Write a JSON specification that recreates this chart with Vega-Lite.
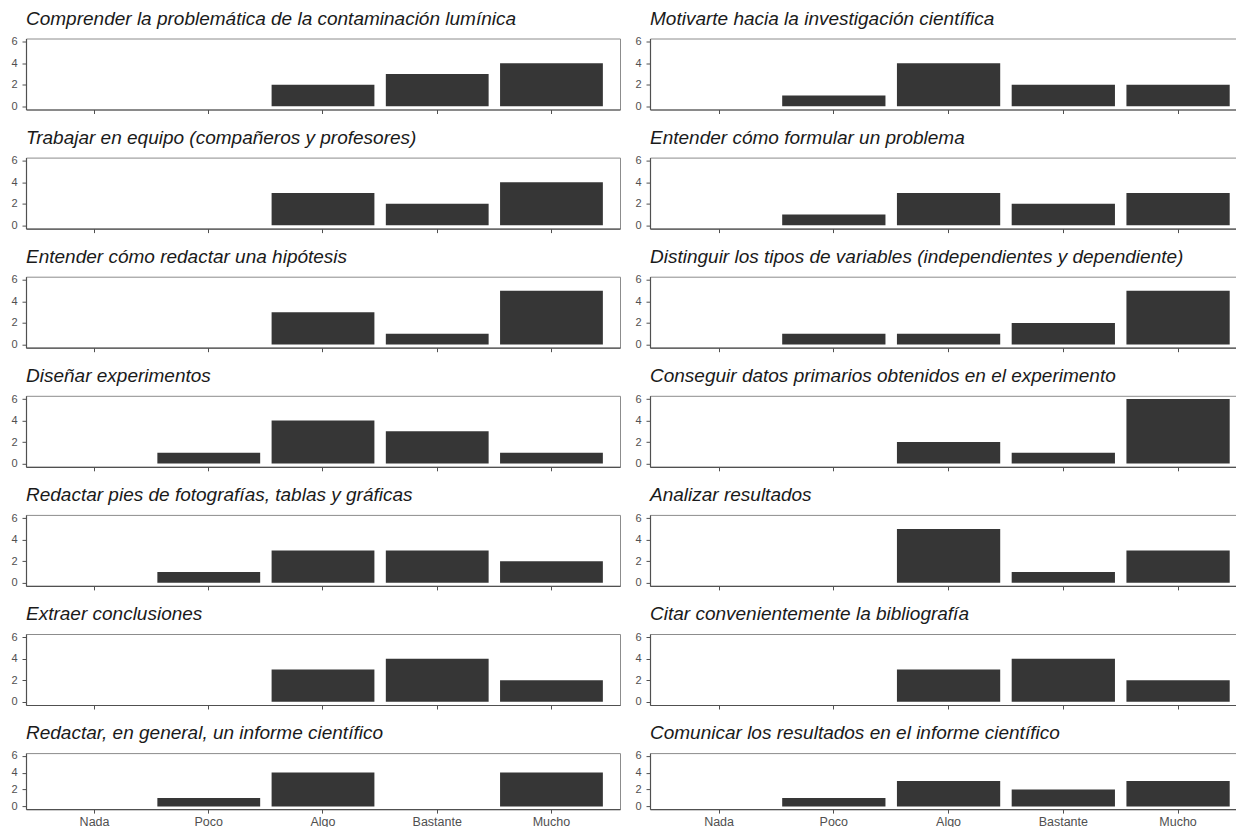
{
  "$schema": "https://vega.github.io/schema/vega-lite/v6.json",
  "padding": {"left": 10, "top": 8.5, "right": 0, "bottom": 0},
  "background": "white",
  "data": {"values": [
    {"p": 1, "cat": "Algo", "n": 2}, {"p": 1, "cat": "Bastante", "n": 3}, {"p": 1, "cat": "Mucho", "n": 4},
    {"p": 2, "cat": "Poco", "n": 1}, {"p": 2, "cat": "Algo", "n": 4}, {"p": 2, "cat": "Bastante", "n": 2}, {"p": 2, "cat": "Mucho", "n": 2},
    {"p": 3, "cat": "Algo", "n": 3}, {"p": 3, "cat": "Bastante", "n": 2}, {"p": 3, "cat": "Mucho", "n": 4},
    {"p": 4, "cat": "Poco", "n": 1}, {"p": 4, "cat": "Algo", "n": 3}, {"p": 4, "cat": "Bastante", "n": 2}, {"p": 4, "cat": "Mucho", "n": 3},
    {"p": 5, "cat": "Algo", "n": 3}, {"p": 5, "cat": "Bastante", "n": 1}, {"p": 5, "cat": "Mucho", "n": 5},
    {"p": 6, "cat": "Poco", "n": 1}, {"p": 6, "cat": "Algo", "n": 1}, {"p": 6, "cat": "Bastante", "n": 2}, {"p": 6, "cat": "Mucho", "n": 5},
    {"p": 7, "cat": "Poco", "n": 1}, {"p": 7, "cat": "Algo", "n": 4}, {"p": 7, "cat": "Bastante", "n": 3}, {"p": 7, "cat": "Mucho", "n": 1},
    {"p": 8, "cat": "Algo", "n": 2}, {"p": 8, "cat": "Bastante", "n": 1}, {"p": 8, "cat": "Mucho", "n": 6},
    {"p": 9, "cat": "Poco", "n": 1}, {"p": 9, "cat": "Algo", "n": 3}, {"p": 9, "cat": "Bastante", "n": 3}, {"p": 9, "cat": "Mucho", "n": 2},
    {"p": 10, "cat": "Algo", "n": 5}, {"p": 10, "cat": "Bastante", "n": 1}, {"p": 10, "cat": "Mucho", "n": 3},
    {"p": 11, "cat": "Algo", "n": 3}, {"p": 11, "cat": "Bastante", "n": 4}, {"p": 11, "cat": "Mucho", "n": 2},
    {"p": 12, "cat": "Algo", "n": 3}, {"p": 12, "cat": "Bastante", "n": 4}, {"p": 12, "cat": "Mucho", "n": 2},
    {"p": 13, "cat": "Poco", "n": 1}, {"p": 13, "cat": "Algo", "n": 4}, {"p": 13, "cat": "Mucho", "n": 4},
    {"p": 14, "cat": "Poco", "n": 1}, {"p": 14, "cat": "Algo", "n": 3}, {"p": 14, "cat": "Bastante", "n": 2}, {"p": 14, "cat": "Mucho", "n": 3}
  ]},
  "columns": 2,
  "spacing": {"row": 13.1, "column": 13},
  "concat": [
    {"title": "Comprender la problemática de la contaminación lumínica", "width": 594, "height": 71, "transform": [{"filter": "datum.p == 1"}], "mark": "bar",
     "encoding": {"x": {"field": "cat", "type": "nominal", "scale": {"domain": ["Nada","Poco","Algo","Bastante","Mucho"], "paddingInner": 0.1, "paddingOuter": 0.15}, "axis": {"labels": false}},
                  "y": {"field": "n", "type": "quantitative", "scale": {"domain": [-0.3, 6.3], "nice": false, "zero": false}, "axis": {"values": [0, 2, 4, 6]}}, "y2": {"datum": 0}}},
    {"title": "Motivarte hacia la investigación científica", "width": 587, "height": 71, "transform": [{"filter": "datum.p == 2"}], "mark": "bar",
     "encoding": {"x": {"field": "cat", "type": "nominal", "scale": {"domain": ["Nada","Poco","Algo","Bastante","Mucho"], "paddingInner": 0.1, "paddingOuter": 0.1078, "align": 0.705}, "axis": {"labels": false}},
                  "y": {"field": "n", "type": "quantitative", "scale": {"domain": [-0.3, 6.3], "nice": false, "zero": false}, "axis": {"values": [0, 2, 4, 6]}}, "y2": {"datum": 0}}},
    {"title": "Trabajar en equipo (compañeros y profesores)", "width": 594, "height": 71, "transform": [{"filter": "datum.p == 3"}], "mark": "bar",
     "encoding": {"x": {"field": "cat", "type": "nominal", "scale": {"domain": ["Nada","Poco","Algo","Bastante","Mucho"], "paddingInner": 0.1, "paddingOuter": 0.15}, "axis": {"labels": false}},
                  "y": {"field": "n", "type": "quantitative", "scale": {"domain": [-0.3, 6.3], "nice": false, "zero": false}, "axis": {"values": [0, 2, 4, 6]}}, "y2": {"datum": 0}}},
    {"title": "Entender cómo formular un problema", "width": 587, "height": 71, "transform": [{"filter": "datum.p == 4"}], "mark": "bar",
     "encoding": {"x": {"field": "cat", "type": "nominal", "scale": {"domain": ["Nada","Poco","Algo","Bastante","Mucho"], "paddingInner": 0.1, "paddingOuter": 0.1078, "align": 0.705}, "axis": {"labels": false}},
                  "y": {"field": "n", "type": "quantitative", "scale": {"domain": [-0.3, 6.3], "nice": false, "zero": false}, "axis": {"values": [0, 2, 4, 6]}}, "y2": {"datum": 0}}},
    {"title": "Entender cómo redactar una hipótesis", "width": 594, "height": 71, "transform": [{"filter": "datum.p == 5"}], "mark": "bar",
     "encoding": {"x": {"field": "cat", "type": "nominal", "scale": {"domain": ["Nada","Poco","Algo","Bastante","Mucho"], "paddingInner": 0.1, "paddingOuter": 0.15}, "axis": {"labels": false}},
                  "y": {"field": "n", "type": "quantitative", "scale": {"domain": [-0.3, 6.3], "nice": false, "zero": false}, "axis": {"values": [0, 2, 4, 6]}}, "y2": {"datum": 0}}},
    {"title": "Distinguir los tipos de variables (independientes y dependiente)", "width": 587, "height": 71, "transform": [{"filter": "datum.p == 6"}], "mark": "bar",
     "encoding": {"x": {"field": "cat", "type": "nominal", "scale": {"domain": ["Nada","Poco","Algo","Bastante","Mucho"], "paddingInner": 0.1, "paddingOuter": 0.1078, "align": 0.705}, "axis": {"labels": false}},
                  "y": {"field": "n", "type": "quantitative", "scale": {"domain": [-0.3, 6.3], "nice": false, "zero": false}, "axis": {"values": [0, 2, 4, 6]}}, "y2": {"datum": 0}}},
    {"title": "Diseñar experimentos", "width": 594, "height": 71, "transform": [{"filter": "datum.p == 7"}], "mark": "bar",
     "encoding": {"x": {"field": "cat", "type": "nominal", "scale": {"domain": ["Nada","Poco","Algo","Bastante","Mucho"], "paddingInner": 0.1, "paddingOuter": 0.15}, "axis": {"labels": false}},
                  "y": {"field": "n", "type": "quantitative", "scale": {"domain": [-0.3, 6.3], "nice": false, "zero": false}, "axis": {"values": [0, 2, 4, 6]}}, "y2": {"datum": 0}}},
    {"title": "Conseguir datos primarios obtenidos en el experimento", "width": 587, "height": 71, "transform": [{"filter": "datum.p == 8"}], "mark": "bar",
     "encoding": {"x": {"field": "cat", "type": "nominal", "scale": {"domain": ["Nada","Poco","Algo","Bastante","Mucho"], "paddingInner": 0.1, "paddingOuter": 0.1078, "align": 0.705}, "axis": {"labels": false}},
                  "y": {"field": "n", "type": "quantitative", "scale": {"domain": [-0.3, 6.3], "nice": false, "zero": false}, "axis": {"values": [0, 2, 4, 6]}}, "y2": {"datum": 0}}},
    {"title": "Redactar pies de fotografías, tablas y gráficas", "width": 594, "height": 71, "transform": [{"filter": "datum.p == 9"}], "mark": "bar",
     "encoding": {"x": {"field": "cat", "type": "nominal", "scale": {"domain": ["Nada","Poco","Algo","Bastante","Mucho"], "paddingInner": 0.1, "paddingOuter": 0.15}, "axis": {"labels": false}},
                  "y": {"field": "n", "type": "quantitative", "scale": {"domain": [-0.3, 6.3], "nice": false, "zero": false}, "axis": {"values": [0, 2, 4, 6]}}, "y2": {"datum": 0}}},
    {"title": "Analizar resultados", "width": 587, "height": 71, "transform": [{"filter": "datum.p == 10"}], "mark": "bar",
     "encoding": {"x": {"field": "cat", "type": "nominal", "scale": {"domain": ["Nada","Poco","Algo","Bastante","Mucho"], "paddingInner": 0.1, "paddingOuter": 0.1078, "align": 0.705}, "axis": {"labels": false}},
                  "y": {"field": "n", "type": "quantitative", "scale": {"domain": [-0.3, 6.3], "nice": false, "zero": false}, "axis": {"values": [0, 2, 4, 6]}}, "y2": {"datum": 0}}},
    {"title": "Extraer conclusiones", "width": 594, "height": 71, "transform": [{"filter": "datum.p == 11"}], "mark": "bar",
     "encoding": {"x": {"field": "cat", "type": "nominal", "scale": {"domain": ["Nada","Poco","Algo","Bastante","Mucho"], "paddingInner": 0.1, "paddingOuter": 0.15}, "axis": {"labels": false}},
                  "y": {"field": "n", "type": "quantitative", "scale": {"domain": [-0.3, 6.3], "nice": false, "zero": false}, "axis": {"values": [0, 2, 4, 6]}}, "y2": {"datum": 0}}},
    {"title": "Citar convenientemente la bibliografía", "width": 587, "height": 71, "transform": [{"filter": "datum.p == 12"}], "mark": "bar",
     "encoding": {"x": {"field": "cat", "type": "nominal", "scale": {"domain": ["Nada","Poco","Algo","Bastante","Mucho"], "paddingInner": 0.1, "paddingOuter": 0.1078, "align": 0.705}, "axis": {"labels": false}},
                  "y": {"field": "n", "type": "quantitative", "scale": {"domain": [-0.3, 6.3], "nice": false, "zero": false}, "axis": {"values": [0, 2, 4, 6]}}, "y2": {"datum": 0}}},
    {"title": "Redactar, en general, un informe científico", "width": 594, "height": 56, "transform": [{"filter": "datum.p == 13"}], "mark": "bar",
     "encoding": {"x": {"field": "cat", "type": "nominal", "scale": {"domain": ["Nada","Poco","Algo","Bastante","Mucho"], "paddingInner": 0.1, "paddingOuter": 0.15}},
                  "y": {"field": "n", "type": "quantitative", "scale": {"domain": [-0.3, 6.3], "nice": false, "zero": false}, "axis": {"values": [0, 2, 4, 6]}}, "y2": {"datum": 0}}},
    {"title": "Comunicar los resultados en el informe científico", "width": 587, "height": 56, "transform": [{"filter": "datum.p == 14"}], "mark": "bar",
     "encoding": {"x": {"field": "cat", "type": "nominal", "scale": {"domain": ["Nada","Poco","Algo","Bastante","Mucho"], "paddingInner": 0.1, "paddingOuter": 0.1078, "align": 0.705}},
                  "y": {"field": "n", "type": "quantitative", "scale": {"domain": [-0.3, 6.3], "nice": false, "zero": false}, "axis": {"values": [0, 2, 4, 6]}}, "y2": {"datum": 0}}}
  ],
  "config": {
    "font": "Liberation Sans",
    "view": {"stroke": "#8c8c8c", "strokeWidth": 1},
    "bar": {"color": "#363636"},
    "title": {"fontStyle": "italic", "fontWeight": "normal", "fontSize": 19, "anchor": "start", "frame": "group", "color": "#1a1a1a", "baseline": "alphabetic", "offset": 7, "font": "Liberation Sans"},
    "axis": {"labelFont": "Liberation Sans", "labelColor": "#505050", "tickColor": "#505050", "domainColor": "#505050"},
    "axisX": {"title": null, "domainColor": "#505050", "domainWidth": 1.2, "tickColor": "#505050", "tickSize": 4, "labelColor": "#505050", "labelFontSize": 12.5, "labelPadding": 2, "grid": false, "labelAngle": 0},
    "axisY": {"title": null, "domainColor": "#505050", "domainWidth": 1.2, "tickColor": "#505050", "tickSize": 4, "labelColor": "#505050", "labelFontSize": 11, "labelPadding": 5, "grid": false}
  }
}
